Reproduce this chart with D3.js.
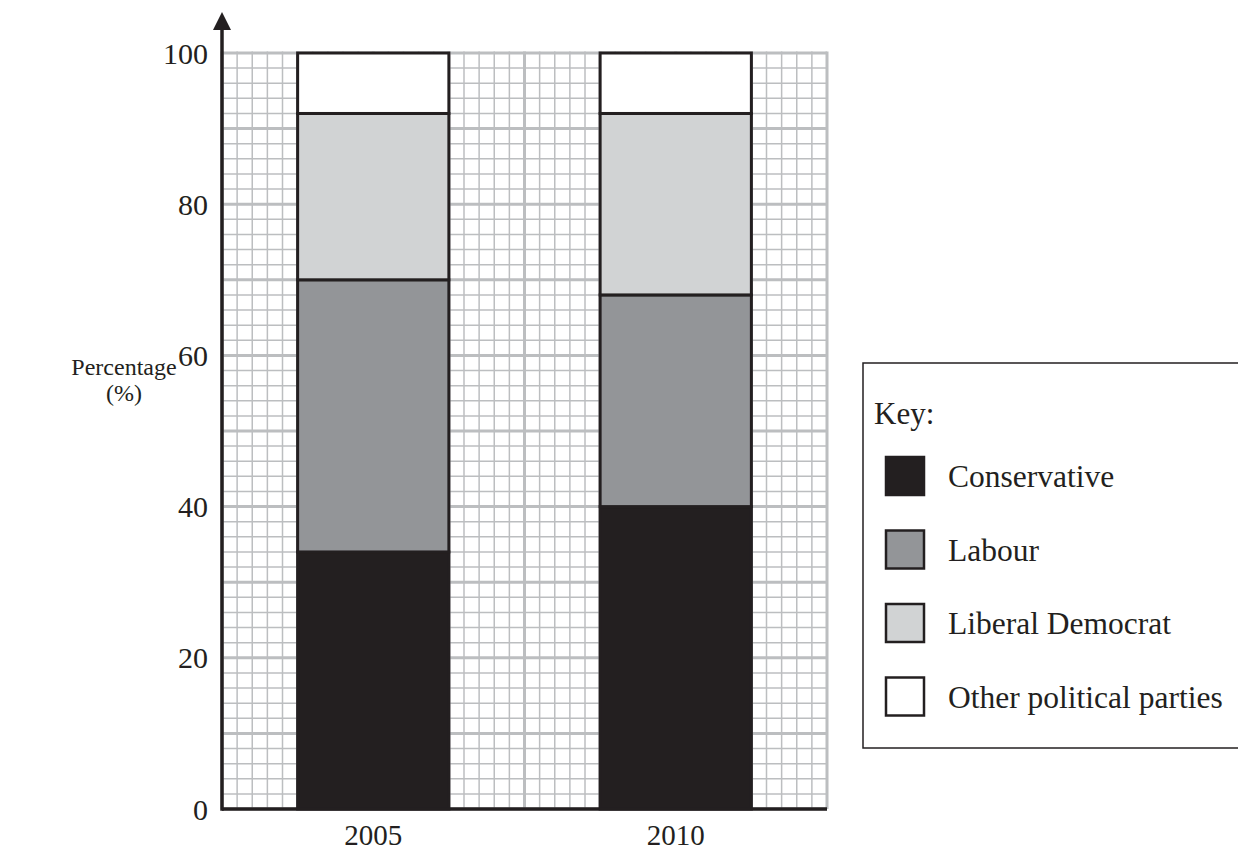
<!DOCTYPE html>
<html>
<head>
<meta charset="utf-8">
<script src="https://cdn.jsdelivr.net/npm/d3@7"></script>
<style>
  body { margin: 0; background: #fff; }
  text { font-family: 'Liberation Serif', 'Times New Roman', serif; fill: #231f20; }
</style>
</head>
<body>
<div id="chart"></div>
<script>
const years = ['2005', '2010'];
const parties = ['Conservative', 'Labour', 'Liberal Democrat', 'Other political parties'];
const conservative = [34, 40];
const labour = [36, 28];
const libDem = [22, 24];
const other = [8, 8];
const yTicks = [0, 20, 40, 60, 80, 100];

const colors = ['#231f20', '#939598', '#d1d3d4', '#ffffff'];
const ink = '#231f20';
const gridColor = '#bcbec0';

const width = 1238;
const height = 852;
const margin = { top: 53, right: 411, bottom: 43, left: 222 };

const svg = d3.select('#chart')
  .append('svg')
  .attr('width', width)
  .attr('height', height);

const y = d3.scaleLinear()
  .domain([0, 100])
  .range([height - margin.bottom, margin.top]);

const x = d3.scaleBand()
  .domain(years)
  .range([margin.left, width - margin.right])
  .paddingInner(0.5)
  .paddingOuter(0.25);

// grid cells: 40 across, 50 up
const gx = d3.scaleLinear().domain([0, 40]).range([margin.left, width - margin.right]);

const grid = svg.append('g').attr('stroke', gridColor);
grid.selectAll('line.h')
  .data(d3.range(0, 101, 2))
  .enter().append('line')
  .attr('x1', gx(0)).attr('x2', gx(40))
  .attr('y1', (d) => y(d)).attr('y2', (d) => y(d))
  .attr('stroke-width', (d) => (d % 10 === 0 ? 3 : 1.5));
grid.selectAll('line.v')
  .data(d3.range(0, 41))
  .enter().append('line')
  .attr('x1', (d) => gx(d)).attr('x2', (d) => gx(d))
  .attr('y1', y(0)).attr('y2', y(100) - 1.5)
  .attr('stroke-width', (d) => (d % 5 === 0 ? 3 : 1.5));

// stacked bars
const table = years.map((yr, i) => ({
  year: yr,
  Conservative: conservative[i],
  Labour: labour[i],
  'Liberal Democrat': libDem[i],
  'Other political parties': other[i],
}));
const series = d3.stack().keys(parties)(table);

svg.append('g')
  .selectAll('g')
  .data(series)
  .enter().append('g')
  .attr('fill', (d, i) => colors[i])
  .selectAll('rect')
  .data((d) => d)
  .enter().append('rect')
  .attr('x', (d) => x(d.data.year))
  .attr('y', (d) => y(d[1]))
  .attr('width', x.bandwidth())
  .attr('height', (d) => y(d[0]) - y(d[1]))
  .attr('stroke', ink)
  .attr('stroke-width', 3);

// axes
svg.append('line')
  .attr('x1', margin.left).attr('x2', gx(40))
  .attr('y1', y(0)).attr('y2', y(0))
  .attr('stroke', ink).attr('stroke-width', 3.5);
svg.append('line')
  .attr('x1', margin.left).attr('x2', margin.left)
  .attr('y1', y(0) + 1.75).attr('y2', 26)
  .attr('stroke', ink).attr('stroke-width', 3.5);
svg.append('path')
  .attr('d', `M${margin.left},12 L${margin.left - 9},30 L${margin.left + 9},30 Z`)
  .attr('fill', ink);

svg.append('g')
  .selectAll('text')
  .data(yTicks)
  .enter().append('text')
  .attr('x', margin.left - 14)
  .attr('y', (d) => y(d))
  .attr('dy', '0.35em')
  .attr('text-anchor', 'end')
  .style('font-size', '30px')
  .text((d) => d);

svg.append('g')
  .selectAll('text')
  .data(years)
  .enter().append('text')
  .attr('x', (d) => x(d) + x.bandwidth() / 2)
  .attr('y', y(0) + 36)
  .attr('text-anchor', 'middle')
  .style('font-size', '29px')
  .text((d) => d);

svg.append('text')
  .attr('x', 124).attr('y', 375)
  .attr('text-anchor', 'middle')
  .style('font-size', '24px')
  .text('Percentage');
svg.append('text')
  .attr('x', 124).attr('y', 401)
  .attr('text-anchor', 'middle')
  .style('font-size', '24px')
  .text('(%)');

// key
const key = svg.append('g');
key.append('rect')
  .attr('x', 863).attr('y', 363)
  .attr('width', 400).attr('height', 385)
  .attr('fill', 'none')
  .attr('stroke', ink).attr('stroke-width', 1.5);
key.append('text')
  .attr('x', 874).attr('y', 424)
  .style('font-size', '31px')
  .text('Key:');
const items = key.selectAll('g.item')
  .data(parties)
  .enter().append('g')
  .attr('transform', (d, i) => `translate(886,${457 + i * 73.5})`);
items.append('rect')
  .attr('width', 38).attr('height', 38)
  .attr('fill', (d, i) => colors[i])
  .attr('stroke', ink).attr('stroke-width', 2.5);
items.append('text')
  .attr('x', 62).attr('y', 19)
  .attr('dy', '0.35em')
  .style('font-size', '31.5px')
  .text((d) => d);
</script>
</body>
</html>
